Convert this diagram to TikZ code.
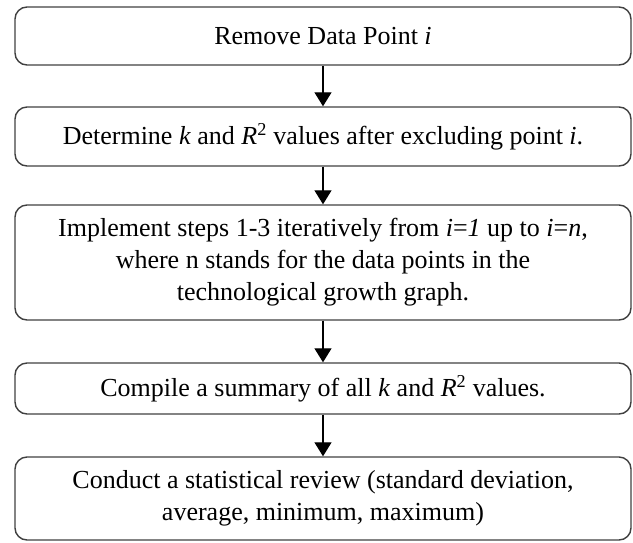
\documentclass[tikz,border=0pt]{standalone}
\usepackage{fontspec}
\setmainfont{Liberation Serif}
\usetikzlibrary{arrows.meta}
\begin{document}
\begin{tikzpicture}[x=1pt,y=-1pt,
  stepbox/.style={draw=black!75,line width=1.4pt,rounded corners=12pt,minimum width=616pt,
    align=center,inner sep=0pt,font=\fontsize{26}{32}\selectfont},
  flow/.style={line width=1.2pt,-{Triangle[width=17pt,length=14pt]}}]
\useasboundingbox (0,0) rectangle (633,542);
\node[stepbox,minimum height=58pt] (b1) at (323,36) {Remove Data Point \textit{i}};
\node[stepbox,minimum height=59pt] (b2) at (323,136.5) {Determine \textit{k} and \textit{R}\textsuperscript{2} values after excluding point \textit{i}.};
\node[stepbox,minimum height=115pt] (b3) at (323,262.5) {Implement steps 1-3 iteratively from \textit{i}=\textit{1} up to \textit{i}=\textit{n},\\ where n stands for the data points in the\\ technological growth graph.};
\node[stepbox,minimum height=51pt] (b4) at (323,388.5) {Compile a summary of all \textit{k} and \textit{R}\textsuperscript{2} values.};
\node[stepbox,minimum height=83pt] (b5) at (323,498.5) {Conduct a statistical review (standard deviation,\\ average, minimum, maximum)};
\draw[flow] (b1) -- (b2);
\draw[flow] (b2) -- (b3);
\draw[flow] (b3) -- (b4);
\draw[flow] (b4) -- (b5);
\end{tikzpicture}
\end{document}
